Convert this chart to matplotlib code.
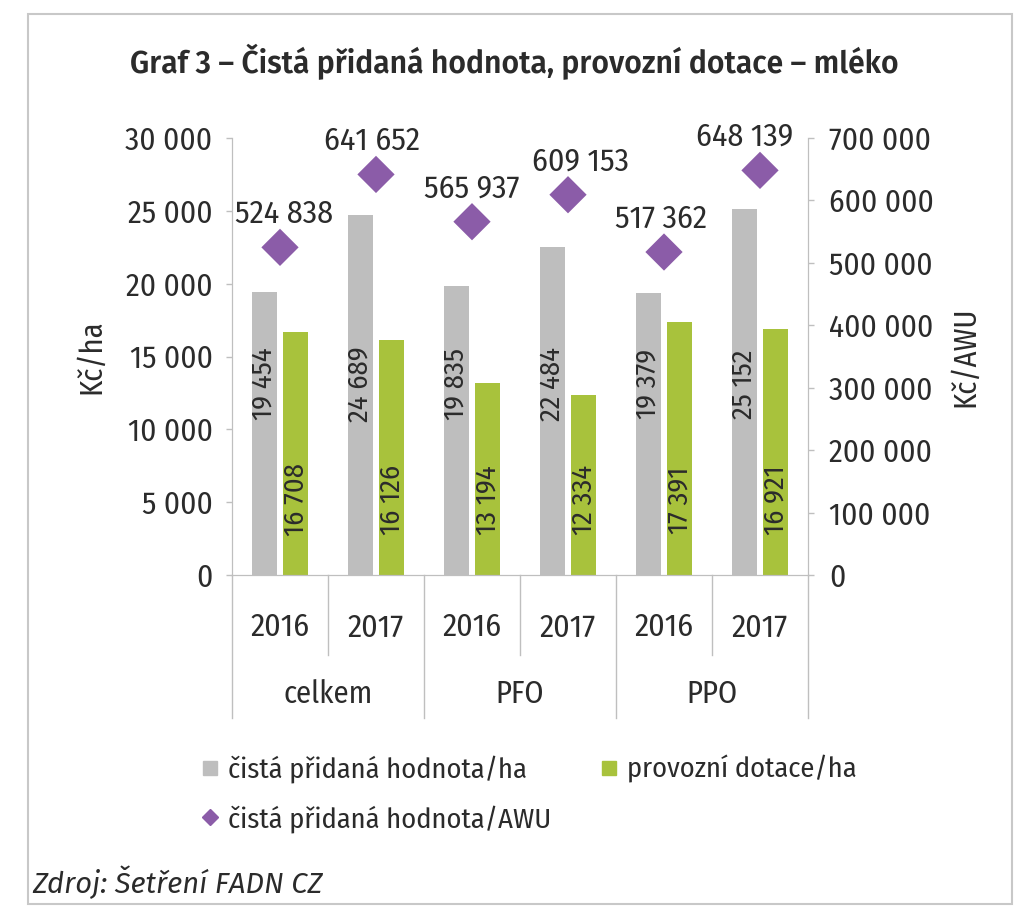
import matplotlib
matplotlib.use("Agg")
import matplotlib.pyplot as plt
import matplotlib.transforms as mtransforms
from matplotlib.patches import Rectangle
from matplotlib.lines import Line2D
from matplotlib.ticker import FuncFormatter, MultipleLocator

# data
years = ["2016", "2017", "2016", "2017", "2016", "2017"]
groups = ["celkem", "PFO", "PPO"]
cph_ha = [19454, 24689, 19835, 22484, 19379, 25152]       # čistá přidaná hodnota/ha
dotace_ha = [16708, 16126, 13194, 12334, 17391, 16921]    # provozní dotace/ha
cph_awu = [524838, 641652, 565937, 609153, 517362, 648139]  # čistá přidaná hodnota/AWU

GRAY = "#bebebe"
GREEN = "#a8c23c"
PURPLE = "#8b5ca8"
TXT = "#2b2b2b"
LINE = "#bfbfbf"

COND = ["Fira Sans Condensed", "DejaVu Sans"]
plt.rcParams["font.family"] = COND
plt.rcParams["text.color"] = TXT

def space_fmt(v, pos=None):
    return f"{int(v):,}".replace(",", " ")

fig = plt.figure(figsize=(10.14, 9.07), dpi=100)
W, H = 1014, 907
ax = fig.add_axes([232 / W, 1 - 575 / H, 576 / W, 437 / H])
ax2 = ax.twinx()

x = list(range(len(years)))
bw = 0.26
off = 0.165
ax.bar([i - off for i in x], cph_ha, width=bw, color=GRAY, zorder=2)
ax.bar([i + off for i in x], dotace_ha, width=bw, color=GREEN, zorder=2)

# value labels sit at a fixed height inside the bars, like the original
for i in x:
    ax.text(i - off, 13100, space_fmt(cph_ha[i]), rotation=90, ha="center",
            va="center", fontsize=20.5, color=TXT, zorder=3)
    ax.text(i + off, 5150, space_fmt(dotace_ha[i]), rotation=90, ha="center",
            va="center", fontsize=20.5, color=TXT, zorder=3)

ax2.scatter(x, cph_awu, marker="D", s=360, color=PURPLE, zorder=4,
            edgecolors="none")
lbl_dx = [3, -3, 0, 9, -2, -11]
for i in x:
    ax2.annotate(space_fmt(cph_awu[i]), (i, cph_awu[i]),
                 xytext=(lbl_dx[i], 24), textcoords="offset points",
                 ha="center", va="center", fontsize=23, color=TXT)

ax.set_xlim(-0.5, 5.5)
ax.set_ylim(0, 30000)
ax2.set_ylim(0, 700000)
ax.yaxis.set_major_locator(MultipleLocator(5000))
ax2.yaxis.set_major_locator(MultipleLocator(100000))
ax.yaxis.set_major_formatter(FuncFormatter(space_fmt))
ax2.yaxis.set_major_formatter(FuncFormatter(space_fmt))

for a in (ax, ax2):
    a.set_facecolor("none")
    a.spines["top"].set_visible(False)
    a.spines["bottom"].set_color(LINE)
    a.spines["left"].set_color(LINE)
    a.spines["right"].set_color(LINE)
    a.tick_params(axis="y", colors=LINE, labelcolor=TXT, labelsize=22.5,
                  length=4, width=1)

ax.tick_params(axis="y", pad=10)
ax2.tick_params(axis="y", pad=11)
ax.set_xticks(x)
ax.set_xticklabels(years, fontsize=23, color=TXT)
ax.tick_params(axis="x", length=0, pad=27)

ax.set_ylabel("Kč/ha", fontsize=22, color=TXT, labelpad=14)
ax2.set_ylabel("Kč/AWU", fontsize=22, color=TXT, labelpad=12)

# category separators below the axis
trans = mtransforms.blended_transform_factory(ax.transData, ax.transAxes)
for xb in [-0.5, 1.5, 3.5, 5.5]:
    ax.add_line(Line2D([xb, xb], [0, -0.327], transform=trans, color=LINE,
                       lw=1, clip_on=False))
for xb in [0.5, 2.5, 4.5]:
    ax.add_line(Line2D([xb, xb], [0, -0.183], transform=trans, color=LINE,
                       lw=1, clip_on=False))
for j, g in enumerate(groups):
    ax.text(2 * j + 0.5, -0.272, g, transform=trans, ha="center", va="center",
            fontsize=22, color=TXT)

fig.text(514 / W, 1 - 62 / H,
         "Graf 3 – Čistá přidaná hodnota, provozní dotace – mléko",
         ha="center", va="center", fontsize=21.7, fontweight="semibold",
         family=["Fira Sans", "DejaVu Sans"], color=TXT)

handles = [
    Line2D([], [], marker="s", ls="none", color=GRAY, markersize=10),
    Line2D([], [], marker="D", ls="none", color=PURPLE, markersize=8),
    Line2D([], [], marker="s", ls="none", color=GREEN, markersize=10),
]
labels = ["čistá přidaná hodnota/ha", "čistá přidaná hodnota/AWU",
          "provozní dotace/ha"]
fig.legend(handles, labels, ncol=2, loc="upper left",
           bbox_to_anchor=(190 / W, 1 - 744 / H), frameon=False, fontsize=20.5,
           handlelength=0.6, handletextpad=0.35, columnspacing=1.7,
           labelspacing=0.75, borderaxespad=0)

fig.text(32 / W, 1 - 882 / H, "Zdroj: Šetření FADN CZ", ha="left",
         va="center", fontsize=21, style="italic",
         family=["Fira Sans", "DejaVu Sans"], color=TXT)

fig.patches.append(Rectangle((28 / W, 1 - 904 / H), 984 / W, 890 / H,
                             transform=fig.transFigure, fill=False,
                             edgecolor="#c8c8c8", lw=1.5))

fig.savefig("out.png", dpi=100)
